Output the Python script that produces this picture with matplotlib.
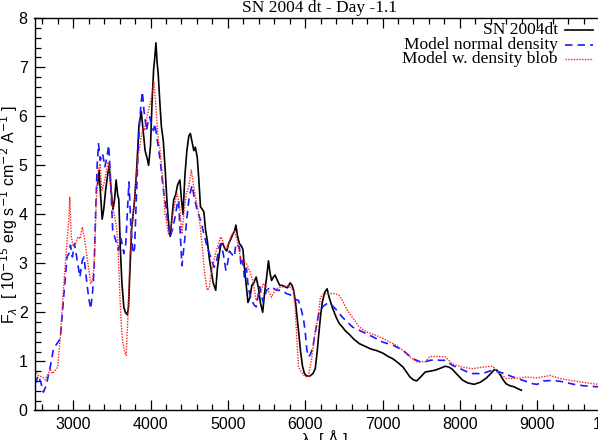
import numpy as np
import matplotlib
matplotlib.use('Agg')
import matplotlib.pyplot as plt
from matplotlib.lines import Line2D
from matplotlib.ticker import MultipleLocator

# observed spectrum, SN 2004dt (wavelength in A, flux in 1e-15 erg/s/cm2/A)
obs_wave = [3315, 3335, 3350, 3375, 3395, 3420, 3445, 3467, 3490, 3515, 3535, 3555,
            3575, 3590, 3610, 3630, 3655, 3675, 3700, 3715, 3735, 3755, 3775, 3795,
            3820, 3850, 3880, 3905, 3930, 3955, 3975, 4000, 4020, 4040, 4055, 4070,
            4085, 4100, 4120, 4140, 4165, 4190, 4215, 4240, 4255, 4275, 4300, 4325,
            4350, 4380, 4400, 4420, 4445, 4470, 4495, 4515, 4540, 4560, 4580, 4605,
            4625, 4646, 4670, 4690, 4710, 4735, 4760, 4780, 4810, 4843, 4865, 4890,
            4910, 4935, 4960, 4985, 5010, 5040, 5065, 5085, 5104, 5125, 5150, 5175,
            5195, 5215, 5240, 5260, 5285, 5310, 5335, 5366, 5395, 5420, 5450, 5475,
            5500, 5525, 5545, 5565, 5590, 5610, 5640, 5670, 5700, 5740, 5770, 5805,
            5830, 5850, 5875, 5895, 5915, 5940, 5965, 5990, 6020, 6060, 6100, 6130,
            6155, 6175, 6200, 6220, 6250, 6283, 6310, 6350, 6400, 6440, 6480, 6520,
            6570, 6630, 6700, 6780, 6850, 6920, 7000, 7070, 7135, 7200, 7266, 7310,
            7354, 7400, 7440, 7480, 7550, 7620, 7681, 7750, 7812, 7860, 7900, 7960,
            8031, 8100, 8183, 8260, 8336, 8400, 8445, 8480, 8511, 8560, 8598, 8650,
            8700, 8750, 8795]
obs_flux = [4.6, 4.9, 4.5, 3.9, 4.1, 4.5, 4.8, 5.0, 4.5, 4.1, 4.3, 4.7,
            4.4, 4.3, 3.3, 2.6, 2.1, 2.0, 1.95, 2.1, 2.9, 3.7, 4.0, 4.3,
            4.9, 5.8, 6.1, 5.7, 5.3, 5.15, 5.0, 5.4, 6.3, 6.95, 7.2, 7.5,
            7.1, 6.85, 6.3, 5.8, 5.5, 4.9, 4.2, 3.7, 3.55, 3.9, 4.3, 4.4,
            4.6, 4.7, 4.3, 4.0, 4.8, 5.3, 5.6, 5.65, 5.45, 5.3, 5.37, 5.15,
            4.7, 4.15, 4.1, 4.05, 3.7, 3.45, 3.1, 2.9, 2.6, 2.45, 2.9, 3.2,
            3.4, 3.4, 3.3, 3.25, 3.4, 3.5, 3.6, 3.65, 3.78, 3.55, 3.4, 3.35,
            3.28, 2.9, 2.5, 2.2, 2.3, 2.55, 2.6, 2.72, 2.5, 2.2, 2.0, 2.4,
            2.7, 3.05, 2.8, 2.65, 2.72, 2.76, 2.65, 2.55, 2.55, 2.52, 2.5, 2.6,
            2.55, 2.45, 2.2, 1.9, 1.6, 1.2, 0.9, 0.75, 0.7, 0.7, 0.75, 0.85,
            1.2, 1.55, 1.95, 2.2, 2.4, 2.48, 2.3, 2.1, 1.9, 1.77, 1.7, 1.62,
            1.55, 1.45, 1.36, 1.3, 1.25, 1.22, 1.17, 1.1, 1.05, 0.97, 0.88, 0.78,
            0.68, 0.62, 0.6, 0.66, 0.78, 0.8, 0.82, 0.86, 0.9, 0.88, 0.84, 0.74,
            0.62, 0.56, 0.53, 0.57, 0.65, 0.75, 0.83, 0.82, 0.75, 0.62, 0.54, 0.5,
            0.48, 0.44, 0.41]

# model, normal density
norm_wave = [2507, 2550, 2585, 2615, 2650, 2703, 2746, 2790, 2834, 2877, 2921, 2945,
             2965, 2990, 3017, 3045, 3087, 3118, 3140, 3170, 3200, 3227, 3250, 3270,
             3290, 3310, 3328, 3350, 3380, 3410, 3440, 3459, 3480, 3511, 3550, 3585,
             3620, 3655, 3680, 3700, 3721, 3745, 3773, 3794, 3816, 3840, 3860, 3880,
             3895, 3915, 3948, 3970, 3991, 4020, 4040, 4057, 4080, 4101, 4125, 4144,
             4170, 4195, 4220, 4253, 4285, 4318, 4345, 4362, 4385, 4406, 4430, 4450,
             4475, 4500, 4537, 4565, 4603, 4646, 4690, 4733, 4777, 4821, 4850, 4887,
             4910, 4940, 4974, 4996, 5020, 5045, 5083, 5104, 5149, 5170, 5190, 5214,
             5240, 5258, 5280, 5310, 5340, 5366, 5410, 5454, 5500, 5560, 5630, 5700,
             5760, 5820, 5850, 5914, 5950, 5980, 6000, 6022, 6044, 6070, 6100, 6131,
             6175, 6230, 6283, 6320, 6393, 6480, 6611, 6742, 6873, 7004, 7135, 7266,
             7340, 7397, 7485, 7550, 7616, 7681, 7750, 7812, 7900, 8031, 8100, 8162,
             8290, 8424, 8555, 8686, 8817, 8948, 9000, 9079, 9210, 9340, 9472, 9603,
             9777, 9910, 10000]
norm_flux = [0.54, 0.71, 0.55, 0.37, 0.5, 0.88, 1.26, 1.36, 1.46, 2.31, 3.13, 3.2,
             3.37, 3.13, 3.4, 3.13, 2.72, 3.06, 3.13, 2.7, 2.3, 2.07, 2.4, 2.86,
             4.0, 5.0, 5.44, 5.1, 5.24, 4.97, 5.2, 5.41, 4.83, 3.67, 3.47, 3.27,
             3.5, 3.2, 3.4, 4.0, 4.66, 3.8, 3.2, 3.3, 4.3, 5.3, 5.92, 6.3,
             6.5, 6.12, 5.71, 5.9, 5.99, 5.75, 5.71, 5.85, 5.6, 5.37, 5.1, 4.83,
             4.45, 4.2, 3.9, 3.54, 3.7, 3.95, 4.2, 4.29, 3.6, 2.95, 3.3, 3.6,
             4.0, 4.35, 4.59, 4.35, 4.08, 3.88, 3.6, 3.33, 3.13, 2.92, 3.0, 3.33,
             3.4, 3.2, 2.86, 3.0, 3.25, 3.2, 3.13, 3.4, 3.33, 2.95, 3.06, 2.72,
             2.9, 2.6, 2.38, 2.24, 2.15, 2.11, 2.52, 2.21, 2.45, 2.52, 2.45, 2.45,
             2.38, 2.35, 2.28, 2.24, 2.05, 1.84, 1.6, 1.22, 1.09, 1.15, 1.3, 1.6,
             1.97, 2.12, 2.18, 2.18, 2.07, 1.9, 1.7, 1.6, 1.5, 1.39, 1.33, 1.22,
             1.12, 1.05, 0.99, 0.99, 1.02, 1.03, 1.02, 1.02, 0.92, 0.83, 0.78, 0.75,
             0.75, 0.82, 0.76, 0.68, 0.61, 0.54, 0.53, 0.6, 0.61, 0.58, 0.53, 0.5,
             0.48, 0.44, 0.43]

# model with density blob
blob_wave = [2507, 2550, 2600, 2638, 2680, 2703, 2730, 2770, 2800, 2834, 2877, 2921,
             2945, 2956, 2975, 3000, 3030, 3060, 3090, 3118, 3150, 3190, 3227, 3250,
             3270, 3300, 3325, 3349, 3370, 3395, 3420, 3454, 3475, 3495, 3511, 3530,
             3555, 3575, 3600, 3620, 3642, 3665, 3686, 3710, 3730, 3751, 3770, 3794,
             3815, 3840, 3860, 3880, 3910, 3926, 3955, 3985, 4013, 4044, 4070, 4101,
             4120, 4144, 4166, 4187, 4210, 4232, 4260, 4300, 4341, 4370, 4390, 4406,
             4430, 4460, 4494, 4528, 4555, 4580, 4625, 4665, 4700, 4733, 4760, 4777,
             4800, 4840, 4865, 4908, 4935, 4965, 5000, 5040, 5083, 5120, 5170, 5214,
             5240, 5280, 5323, 5366, 5410, 5460, 5520, 5563, 5610, 5650, 5720, 5780,
             5847, 5869, 5890, 5913, 5950, 6000, 6040, 6080, 6120, 6166, 6197, 6240,
             6300, 6380, 6437, 6480, 6545, 6610, 6699, 6790, 6917, 7048, 7175, 7266,
             7354, 7441, 7550, 7616, 7700, 7812, 7900, 8031, 8162, 8290, 8424, 8490,
             8598, 8730, 8860, 9000, 9164, 9290, 9430, 9560, 9730, 9900, 10000]
blob_flux = [0.82, 0.71, 0.68, 0.62, 0.75, 0.85, 0.75, 0.82, 0.88, 1.5, 2.52, 3.47,
             3.9, 4.35, 3.54, 3.35, 3.4, 3.54, 3.5, 3.74, 3.47, 3.0, 2.59, 2.65,
             2.92, 4.35, 4.9, 5.03, 4.49, 4.6, 4.8, 5.07, 4.76, 4.4, 4.15, 4.0,
             3.8, 3.5, 2.5, 1.8, 1.36, 1.2, 1.12, 2.0, 3.0, 3.67, 3.88, 4.35,
             4.76, 5.2, 5.37, 5.6, 5.8, 5.71, 5.99, 6.2, 6.39, 6.7, 6.19, 5.5,
             5.37, 4.95, 4.6, 4.01, 3.8, 3.6, 3.7, 4.1, 4.42, 4.25, 3.9, 3.6,
             4.0, 4.4, 4.56, 4.9, 4.6, 4.35, 4.01, 3.4, 2.8, 2.45, 2.5, 2.72,
             2.92, 3.2, 3.33, 3.54, 3.45, 3.3, 3.35, 3.55, 3.67, 3.47, 3.06, 3.03,
             3.0, 2.85, 2.65, 2.24, 2.35, 2.59, 2.45, 2.31, 2.45, 2.5, 2.52, 2.55,
             2.45, 2.11, 1.5, 0.88, 0.78, 0.68, 0.7, 1.02, 1.5, 1.9, 2.31, 2.38,
             2.38, 2.38, 2.35, 2.24, 2.04, 1.9, 1.7, 1.6, 1.53, 1.43, 1.33, 1.22,
             1.09, 0.99, 0.99, 1.1, 1.1, 1.09, 0.95, 0.88, 0.85, 0.88, 0.9, 0.78,
             0.65, 0.65, 0.68, 0.66, 0.71, 0.65, 0.61, 0.58, 0.54, 0.51, 0.5]

labels = ['SN 2004dt', 'Model normal density', 'Model w. density blob']
title = 'SN 2004 dt - Day -1.1'

serif = 'Liberation Serif'
sans = 'Liberation Sans'

fig = plt.figure(figsize=(5.98, 4.4), dpi=100)
# axes run past the right edge of the picture, as in the original crop
ax = fig.add_axes([34.5 / 598, 29.7 / 440, 580.1 / 598, 392.0 / 440])

ax.plot(obs_wave, obs_flux, color='black', lw=1.2)
ax.plot(norm_wave, norm_flux, color='#1a1aff', lw=1.2, dashes=(4.5, 3))
ax.plot(blob_wave, blob_flux, color='#ff2020', lw=1.0, linestyle=(0, (1, 1)))

ax.set_xlim(2500, 10000)
ax.set_ylim(0, 8)
ax.xaxis.set_major_locator(MultipleLocator(1000))
ax.xaxis.set_minor_locator(MultipleLocator(200))
ax.yaxis.set_major_locator(MultipleLocator(1))
ax.yaxis.set_minor_locator(MultipleLocator(0.2))
ax.tick_params(which='both', direction='in', top=True, right=True, width=0.9)
ax.tick_params(which='major', length=7, labelsize=11.5, pad=5)
ax.tick_params(which='minor', length=4)
for lab in ax.get_xticklabels() + ax.get_yticklabels():
    lab.set_fontfamily(sans)
for s in ax.spines.values():
    s.set_linewidth(1.0)

ax.set_ylabel(r'F$_\lambda$  [ 10$^{-15}$ erg s$^{-1}$ cm$^{-2}$ A$^{-1}$ ]',
              fontsize=11.5, family=sans)
ax.yaxis.set_label_coords(-0.025, 0.5)
ax.set_xlabel('λ  [ Å ]', fontsize=11.5, family=sans, va='top')
ax.xaxis.set_label_coords(0.5, -0.05)

fig.text(320 / 598, 1 - 12.5 / 440, title, ha='center', va='baseline',
         fontsize=12.5, family=serif)

# gnuplot style key: text right aligned, sample to the right
styles = [dict(color='black', lw=1.2),
          dict(color='#1a1aff', lw=1.2, dashes=(4.5, 3)),
          dict(color='#ff2020', lw=1.0, linestyle=(0, (1, 1)))]
rows = [0.970, 0.933, 0.896]
for lab, st, yy in zip(labels, styles, rows):
    ax.text(0.9024, yy, lab, transform=ax.transAxes, ha='right', va='center',
            fontsize=12.5, family=serif)
    ax.add_line(Line2D([0.9145, 0.9628], [yy, yy], transform=ax.transAxes, **st))

plt.savefig('out.png', dpi=100)
